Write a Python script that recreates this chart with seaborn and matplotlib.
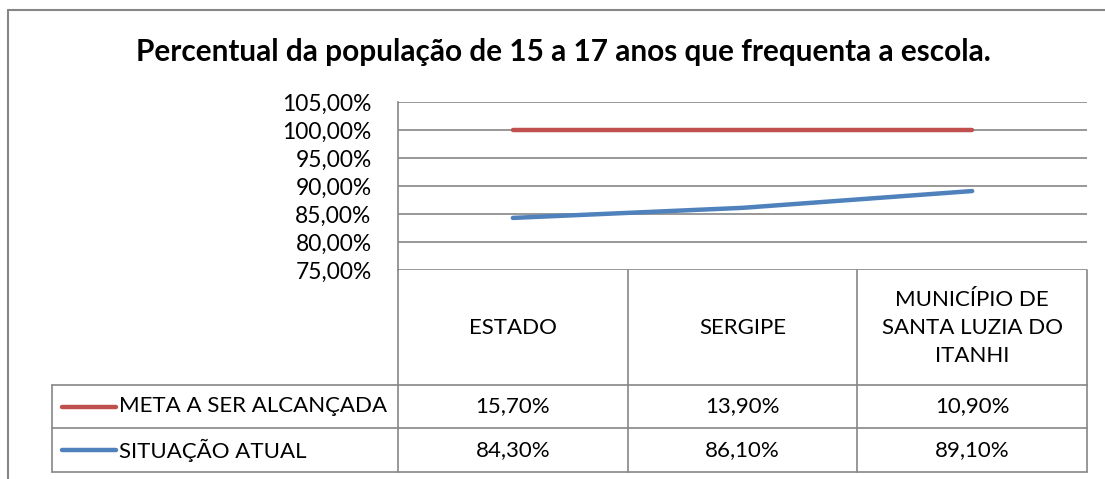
import matplotlib
matplotlib.use("Agg")
import matplotlib.pyplot as plt
import seaborn as sns
import numpy as np
import pandas as pd
from matplotlib.lines import Line2D

# ---- data ----
categories = ["ESTADO", "SERGIPE", "MUNICÍPIO DE\nSANTA LUZIA DO\nITANHI"]
series_names = ["META A SER ALCANÇADA", "SITUAÇÃO ATUAL"]
meta = [15.70, 13.90, 10.90]
situacao = [84.30, 86.10, 89.10]
y_ticks = [75, 80, 85, 90, 95, 100, 105]
title = "Percentual da população de 15 a 17 anos que frequenta a escola."

colors = {series_names[0]: "#C0504D", series_names[1]: "#4F81BD"}
grid_color = "#868686"

sns.set_theme(style="white")
plt.rcParams["font.family"] = ["Lato", "DejaVu Sans"]

W, H = 1105, 479
fig = plt.figure(figsize=(W / 100, H / 100), dpi=100)


def fx(px):
    return px / W


def fy(py):
    return 1 - py / H


left, right, top, bottom = 398, 1087, 102, 270
ax = fig.add_axes([fx(left), fy(bottom), fx(right - left), (bottom - top) / H])

# stacked line chart: META is drawn on top of SITUAÇÃO
stacked_meta = np.array(situacao) + np.array(meta)
df = pd.DataFrame({
    "cat": list(range(len(categories))) * 2,
    "val": list(stacked_meta) + list(situacao),
    "serie": [series_names[0]] * len(categories) + [series_names[1]] * len(categories),
})
sns.lineplot(data=df, x="cat", y="val", hue="serie", palette=colors,
             linewidth=3.2, legend=False, ax=ax, solid_capstyle="round")

ax.set_xlim(-0.5, len(categories) - 0.5)
ax.set_ylim(y_ticks[0], y_ticks[-1])
ax.set_yticks(y_ticks)
ax.set_yticklabels([f"{v:.2f}".replace(".", ",") + "%" for v in y_ticks], fontsize=16.4)
ax.set_xticks([])
ax.set_xlabel("")
ax.set_ylabel("")
ax.tick_params(axis="y", length=0, pad=19, colors="black")
ax.yaxis.grid(True, color=grid_color, linewidth=1.2)
ax.set_axisbelow(True)
for s in ["top", "right", "bottom"]:
    ax.spines[s].set_visible(False)
ax.spines["left"].set_color(grid_color)
ax.spines["left"].set_linewidth(1.2)

# ---- title ----
fig.text(fx(563), fy(52), title, ha="center", va="center", fontsize=21.4,
         fontweight="bold", color="black")

# ---- data table ----
def hline(x0, x1, y):
    fig.add_artist(Line2D([fx(x0), fx(x1)], [fy(y), fy(y)], color=grid_color, lw=1.2))


def vline(x, y0, y1):
    fig.add_artist(Line2D([fx(x), fx(x)], [fy(y0), fy(y1)], color=grid_color, lw=1.2))


col_edges = [398, 628, 857, 1087]
row_header_bottom = 385
row_edges = [385, 428, 472]
legend_left = 52

for x in col_edges:
    vline(x, bottom, row_edges[-1])
vline(legend_left, row_edges[0], row_edges[-1])
for y in row_edges:
    hline(legend_left, col_edges[-1], y)

fs = 16
for i, cat in enumerate(categories):
    cx = (col_edges[i] + col_edges[i + 1]) / 2
    fig.text(fx(cx), fy((bottom + row_header_bottom) / 2), cat, ha="center", va="center",
             fontsize=fs, linespacing=1.5, color="black")

rows = [meta, situacao]
for r, (name, vals) in enumerate(zip(series_names, rows)):
    yc = (row_edges[r] + row_edges[r + 1]) / 2
    fig.add_artist(Line2D([fx(62), fx(116)], [fy(yc), fy(yc)], color=colors[name],
                          lw=3.2, solid_capstyle="round"))
    fig.text(fx(119), fy(yc), name, ha="left", va="center", fontsize=fs, color="black")
    for i, v in enumerate(vals):
        cx = (col_edges[i] + col_edges[i + 1]) / 2
        fig.text(fx(cx), fy(yc), f"{v:.2f}".replace(".", ",") + "%", ha="center",
                 va="center", fontsize=fs, color="black")

# ---- outer chart border ----
fig.add_artist(Line2D([fx(8), fx(8)], [fy(10), fy(H + 5)], color=grid_color, lw=1.5))
fig.add_artist(Line2D([fx(8), fx(W + 5)], [fy(10), fy(10)], color=grid_color, lw=1.5))

fig.savefig("out.png", dpi=100, facecolor="white")
